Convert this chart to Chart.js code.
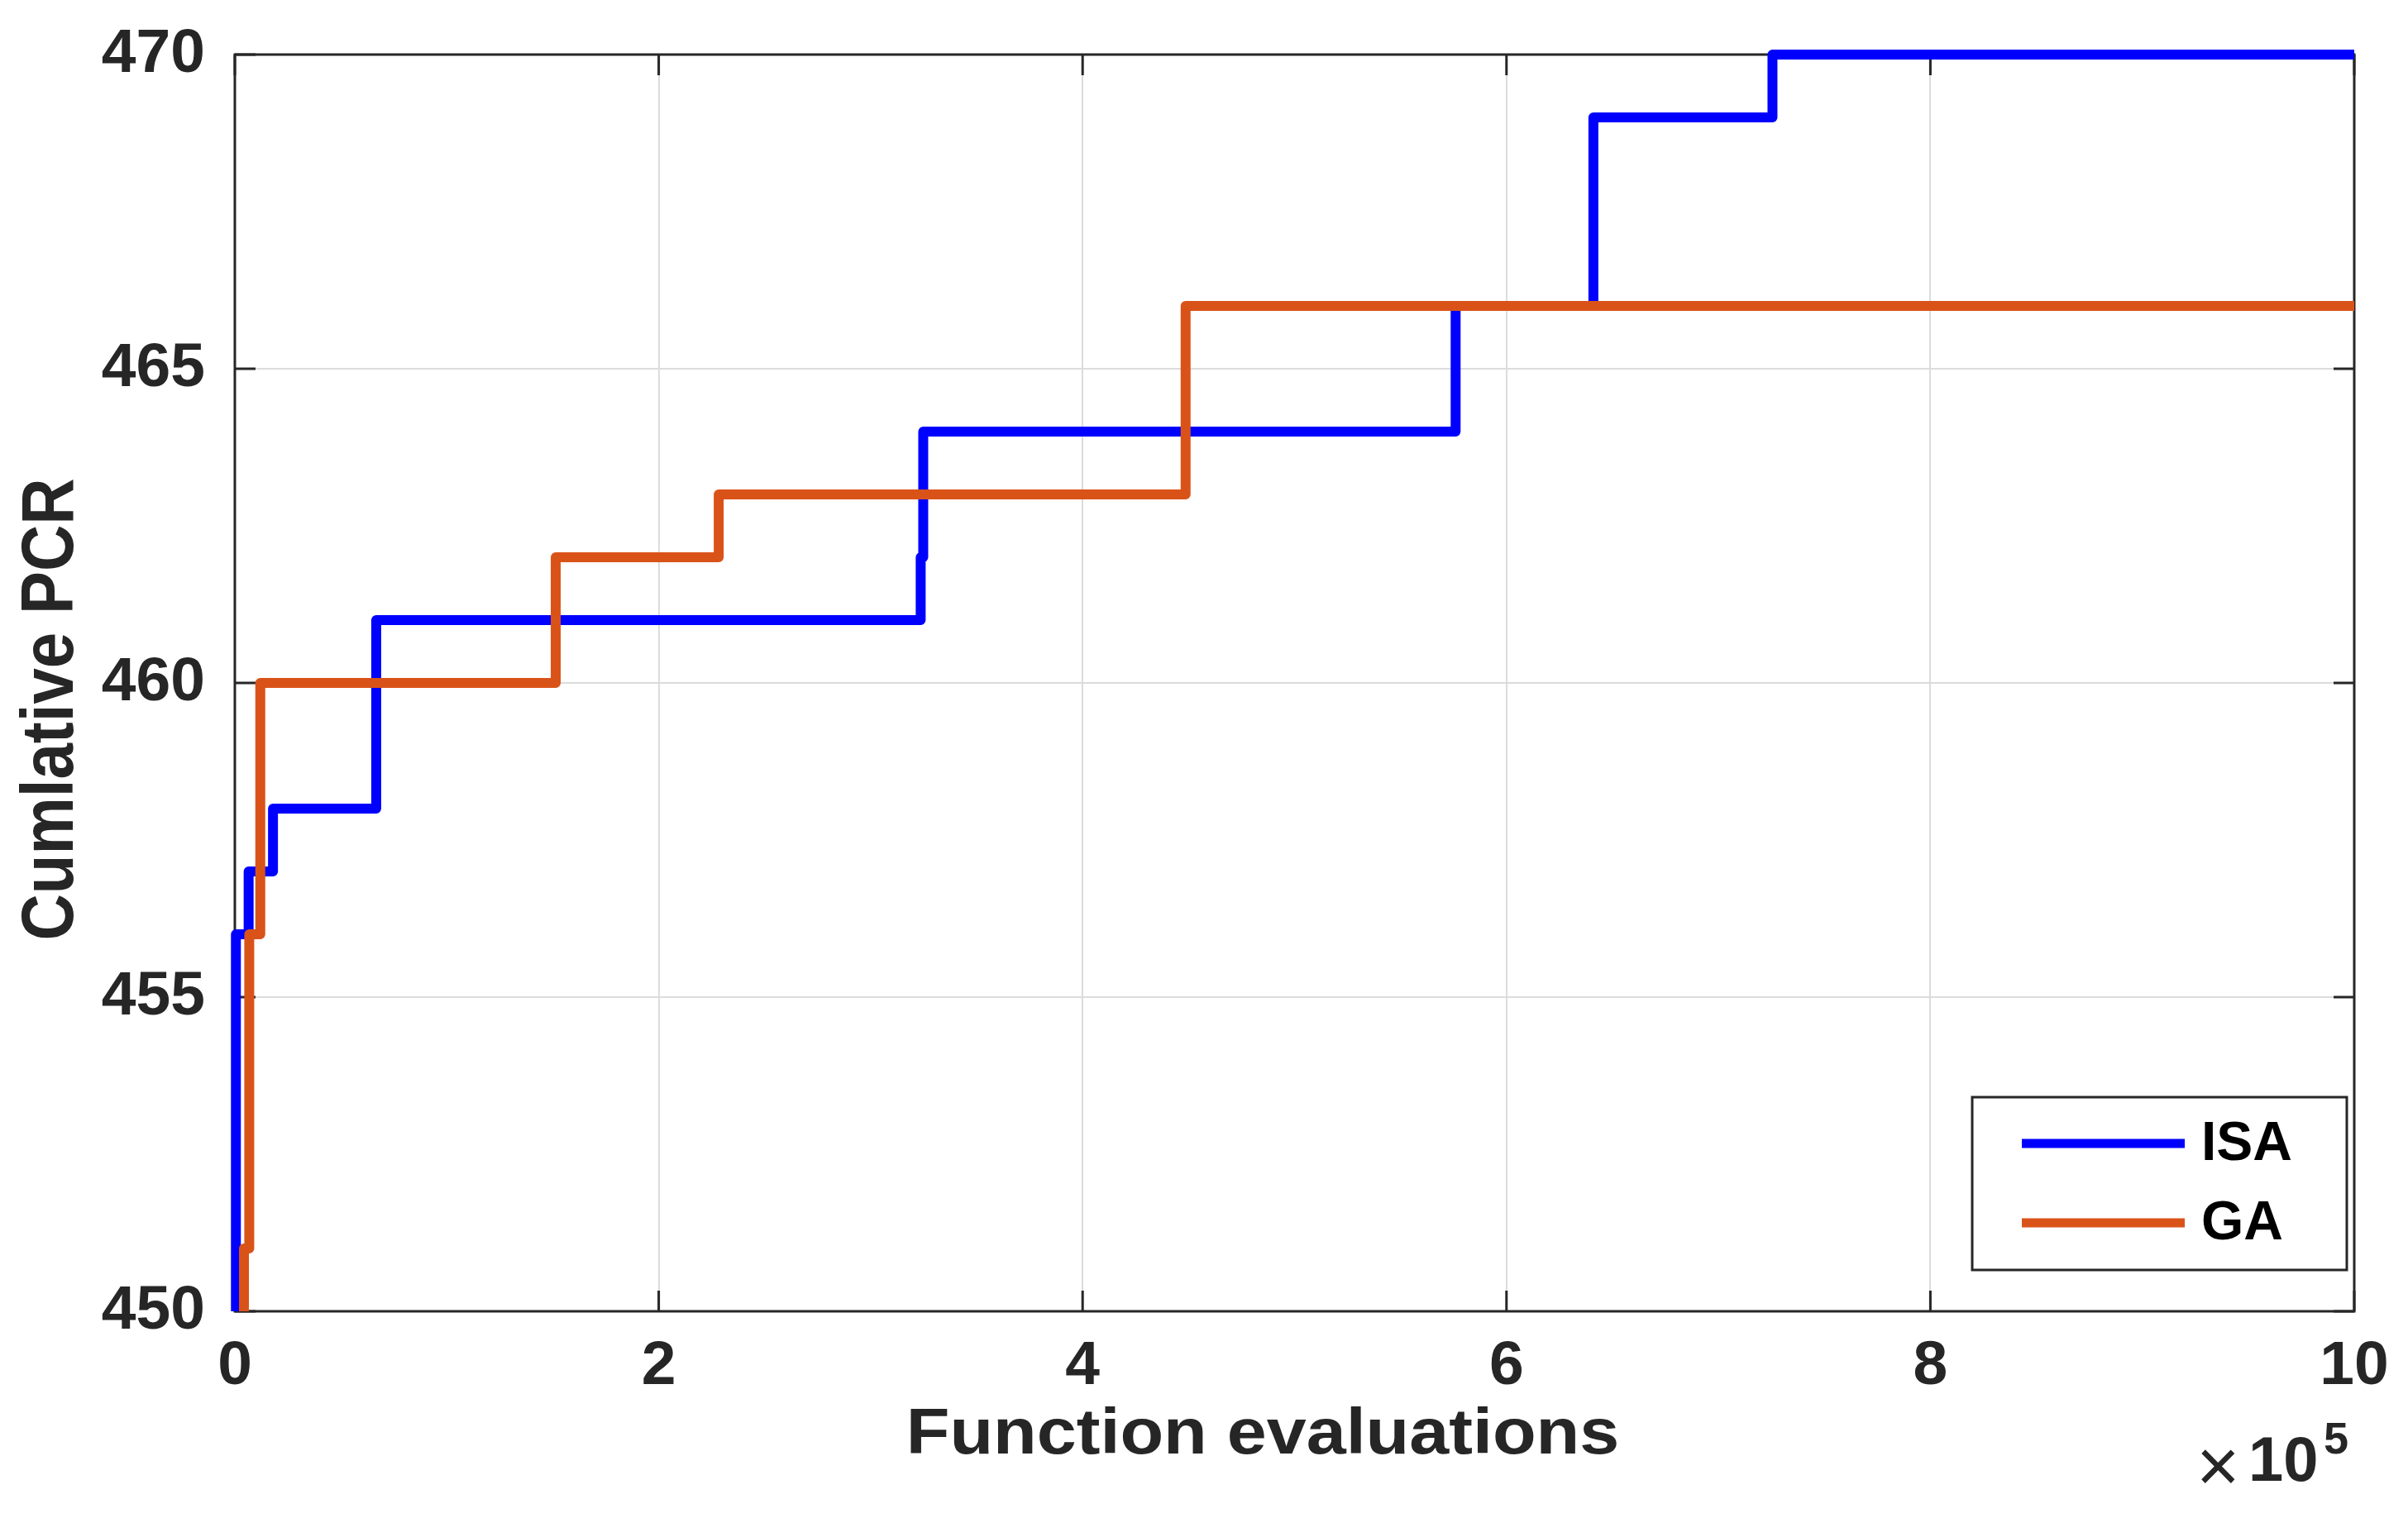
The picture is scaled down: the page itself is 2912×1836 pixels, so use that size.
<!DOCTYPE html>
<html>
<head>
<meta charset="utf-8">
<script src="https://cdn.jsdelivr.net/npm/chart.js@4.4.0/dist/chart.umd.min.js"></script>
<style>
  html, body { margin: 0; padding: 0; background: #fff; }
</style>
</head>
<body>
<canvas id="chart" width="2912" height="1836"></canvas>
<script>
// evaluations at which each curve steps, and the PCR it steps to
const isaEvals = [500, 500, 6500, 18000, 66700, 323600, 324800, 576000, 641000, 725500, 1000000];
const isaPCR   = [450, 456, 457, 458, 461, 462, 464, 466, 469, 470, 470];
const gaEvals  = [4300, 4300, 6800, 12000, 151400, 228300, 448600, 1000000];
const gaPCR    = [450, 451, 456, 460, 462, 463, 466, 466];

const xTicks = [0, 2, 4, 6, 8, 10];   // in units of 10^5
const yTicks = [450, 455, 460, 465, 470];

const seriesNames = ['ISA', 'GA'];
const seriesColors = ['#0000ff', '#d95319'];

const textColor = '#262626';
const fontFamily = "'Liberation Sans', Arial, sans-serif";

function toPoints(xs, ys) {
    return xs.map((v, i) => ({ x: v, y: ys[i] }));
}

const framePlugin = {
    id: 'frame',
    beforeDatasetsDraw(chart) {
        const { ctx, chartArea: a, scales } = chart;
        const tl = 25;
        ctx.save();
        ctx.strokeStyle = textColor;
        ctx.lineWidth = 3;
        ctx.strokeRect(a.left, a.top, a.right - a.left, a.bottom - a.top);
        ctx.beginPath();
        xTicks.forEach(t => {
            const px = scales.x.getPixelForValue(t * 1e5);
            ctx.moveTo(px, a.bottom); ctx.lineTo(px, a.bottom - tl);
            ctx.moveTo(px, a.top); ctx.lineTo(px, a.top + tl);
        });
        yTicks.forEach(t => {
            const py = scales.y.getPixelForValue(t);
            ctx.moveTo(a.left, py); ctx.lineTo(a.left + tl, py);
            ctx.moveTo(a.right, py); ctx.lineTo(a.right - tl, py);
        });
        ctx.stroke();
        ctx.restore();
    },
    afterDatasetsDraw(chart) {
        // legend box, bottom right inside the axes
        const { ctx, chartArea: a } = chart;
        const w = 453, h = 209;
        const bx = a.right - 9 - w, by = a.bottom - 50 - h;
        ctx.save();
        ctx.fillStyle = '#fff';
        ctx.fillRect(bx, by, w, h);
        ctx.strokeStyle = textColor;
        ctx.lineWidth = 3;
        ctx.strokeRect(bx, by, w, h);
        seriesNames.forEach((name, i) => {
            const ly = by + 56 + i * 96;
            ctx.strokeStyle = seriesColors[i];
            ctx.lineWidth = 11;
            ctx.beginPath();
            ctx.moveTo(bx + 60, ly);
            ctx.lineTo(bx + 257, ly);
            ctx.stroke();
            ctx.fillStyle = '#000';
            ctx.font = 'bold 66px ' + fontFamily;
            ctx.textBaseline = 'middle';
            ctx.textAlign = 'left';
            ctx.fillText(name, bx + 277, ly + 2);
        });
        ctx.restore();
    },
    afterDraw(chart) {
        const { ctx } = chart;
        ctx.save();
        ctx.fillStyle = textColor;

        // x axis title
        ctx.save();
        ctx.translate(1527, 1758);
        ctx.scale(1.12, 1);
        ctx.font = 'bold 77px ' + fontFamily;
        ctx.textAlign = 'center';
        ctx.textBaseline = 'alphabetic';
        ctx.fillText('Function evaluations', 0, 0);
        ctx.restore();

        // y axis title
        ctx.save();
        ctx.translate(88, 858);
        ctx.rotate(-Math.PI / 2);
        ctx.scale(1, 1.13);
        ctx.font = 'bold 78px ' + fontFamily;
        ctx.textAlign = 'center';
        ctx.textBaseline = 'alphabetic';
        ctx.fillText('Cumlative PCR', 0, 0);
        ctx.restore();

        // x10^5 multiplier
        ctx.textAlign = 'left';
        ctx.textBaseline = 'alphabetic';
        ctx.font = '300 90px ' + fontFamily;
        ctx.fillText('\u00d7', 2656, 1804);
        ctx.font = 'bold 76px ' + fontFamily;
        ctx.fillText('10', 2719, 1791);
        ctx.font = 'bold 54px ' + fontFamily;
        ctx.fillText('5', 2810, 1758);
        ctx.restore();
    }
};

const ctx = document.getElementById('chart').getContext('2d');
new Chart(ctx, {
    type: 'line',
    data: {
        datasets: [
            {
                label: seriesNames[0],
                data: toPoints(isaEvals, isaPCR),
                borderColor: seriesColors[0],
                order: 2
            },
            {
                label: seriesNames[1],
                data: toPoints(gaEvals, gaPCR),
                borderColor: seriesColors[1],
                order: 1
            }
        ]
    },
    options: {
        responsive: false,
        animation: false,
        devicePixelRatio: 1,
        layout: { padding: { top: 66, right: 65, bottom: 0, left: 0 } },
        elements: {
            line: { borderWidth: 12, stepped: 'before', fill: false, tension: 0, borderJoinStyle: 'round' },
            point: { radius: 0 }
        },
        datasets: { line: { clip: 12 } },
        scales: {
            x: {
                type: 'linear',
                min: 0,
                max: 1e6,
                afterBuildTicks: s => { s.ticks = xTicks.map(v => ({ value: v * 1e5 })); },
                afterFit: s => { s.height = 250; s.paddingLeft = 0; s.paddingRight = 0; },
                grid: { color: '#dcdcdc', lineWidth: 2, drawTicks: false },
                border: { display: false },
                ticks: {
                    padding: 22,
                    color: textColor,
                    font: { family: fontFamily, size: 75, weight: 'bold' },
                    callback: v => String(v / 1e5)
                }
            },
            y: {
                type: 'linear',
                min: 450,
                max: 470,
                afterBuildTicks: s => { s.ticks = yTicks.map(v => ({ value: v })); },
                afterFit: s => { s.width = 284; s.paddingTop = 0; s.paddingBottom = 0; },
                grid: { color: '#dcdcdc', lineWidth: 2, drawTicks: false },
                border: { display: false },
                ticks: {
                    padding: 36,
                    color: textColor,
                    font: { family: fontFamily, size: 75, weight: 'bold' }
                }
            }
        },
        plugins: {
            legend: { display: false },
            tooltip: { enabled: false }
        }
    },
    plugins: [framePlugin]
});
</script>
</body>
</html>
